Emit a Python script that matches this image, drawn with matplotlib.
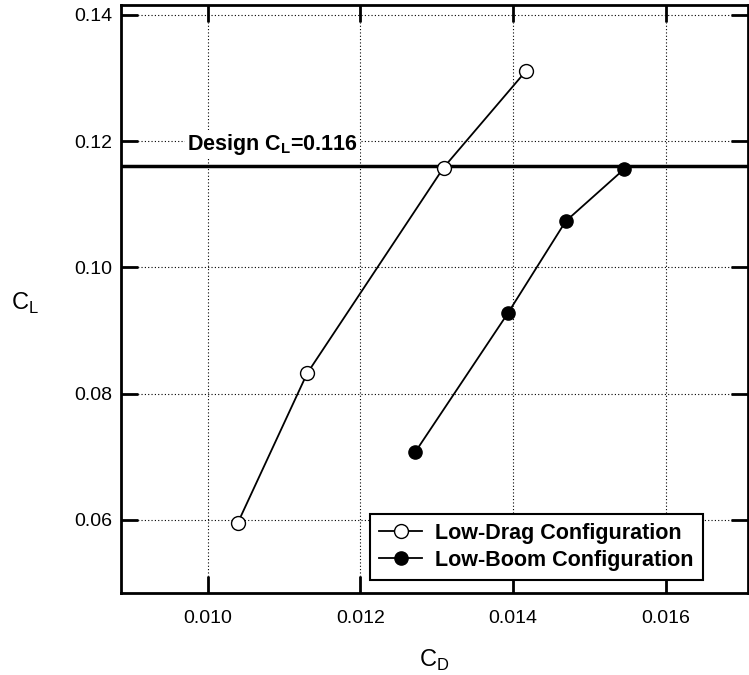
import matplotlib
matplotlib.use("Agg")
import matplotlib.pyplot as plt
from matplotlib.ticker import FormatStrFormatter

plt.rcParams['font.family'] = ['Liberation Sans', 'DejaVu Sans']
plt.rcParams['mathtext.fontset'] = 'custom'
plt.rcParams['mathtext.rm'] = 'Liberation Sans'
plt.rcParams['mathtext.bf'] = 'Liberation Sans:bold'

# drag polars of the two configurations
low_drag_cd = [0.01039, 0.01130, 0.01309, 0.01417]
low_drag_cl = [0.0595, 0.0832, 0.1158, 0.1311]
low_boom_cd = [0.01272, 0.01393, 0.01469, 0.01546]
low_boom_cl = [0.0708, 0.0927, 0.1073, 0.1156]
design_cl = 0.116

x_ticks = [0.010, 0.012, 0.014, 0.016]
y_ticks = [0.06, 0.08, 0.10, 0.12, 0.14]

fig = plt.figure(figsize=(7.49, 6.75), dpi=100)
ax = fig.add_axes([0.1615, 0.1215, 0.8372, 0.8711])

ax.plot(low_drag_cd, low_drag_cl, '-o', color='black', lw=1.3,
        mfc='white', mec='black', mew=1.0, ms=10, label='Low-Drag Configuration')
ax.plot(low_boom_cd, low_boom_cl, '-o', color='black', lw=1.3,
        mfc='black', mec='black', ms=9.5, label='Low-Boom Configuration')

# design lift line
ax.axhline(design_cl, color='black', lw=2.5, zorder=1)
ax.text(0.009725, 0.1186, r'Design C$_\mathbf{L}$=0.116', fontsize=15.5,
        fontweight='bold', ha='left', va='baseline',
        bbox=dict(facecolor='white', edgecolor='none', pad=1.5))

ax.set_xlim(0.00886, 0.01708)
ax.set_ylim(0.04844, 0.14154)
ax.set_xticks(x_ticks)
ax.set_yticks(y_ticks)
ax.xaxis.set_major_formatter(FormatStrFormatter('%.3f'))
ax.yaxis.set_major_formatter(FormatStrFormatter('%.2f'))

ax.grid(True, color='black', linestyle=(0, (1, 2)), linewidth=0.8)
ax.set_axisbelow(True)
ax.tick_params(direction='in', length=12, width=2, top=True, right=True,
               labelsize=14)
ax.tick_params(axis='x', pad=12)
ax.tick_params(axis='y', pad=6)
for s in ax.spines.values():
    s.set_linewidth(2)

ax.set_xlabel(r'C$_\mathregular{D}$', fontsize=17)
ax.xaxis.set_label_coords(0.5, -0.093)
ax.set_ylabel(r'C$_\mathregular{L}$', fontsize=17, rotation=0, va='center', ha='center')
ax.yaxis.set_label_coords(-0.153, 0.493)

leg = ax.legend(loc='lower right', bbox_to_anchor=(0.928, 0.022),
                prop={'weight': 'bold', 'size': 15.5}, fancybox=False,
                framealpha=1, edgecolor='black', borderpad=0.42,
                labelspacing=0.3, handlelength=2.0, handletextpad=0.6,
                borderaxespad=0)
leg.get_frame().set_linewidth(1.5)

fig.savefig('out.png', dpi=100)
